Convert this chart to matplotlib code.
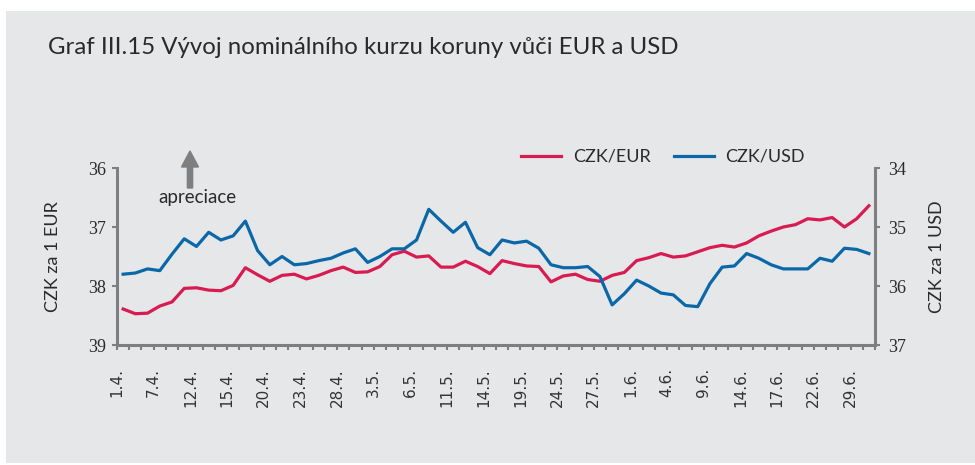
import matplotlib
matplotlib.use("Agg")
import matplotlib.pyplot as plt
from matplotlib.patches import Rectangle, FancyArrow
import numpy as np

# ---- data ----
tick_labels = ["1.4.", "7.4.", "12.4.", "15.4.", "20.4.", "23.4.", "28.4.", "3.5.", "6.5.",
               "11.5.", "14.5.", "19.5.", "24.5.", "27.5.", "1.6.", "4.6.", "9.6.", "14.6.",
               "17.6.", "22.6.", "29.6."]
label_step = 3

czk_eur = [38.39, 38.47, 38.46, 38.34, 38.27, 38.04, 38.03, 38.07, 38.08, 37.99,
           37.69, 37.81, 37.92, 37.82, 37.80, 37.88, 37.82, 37.74, 37.68, 37.77,
           37.76, 37.67, 37.47, 37.41, 37.51, 37.49, 37.68, 37.68, 37.58, 37.67,
           37.79, 37.57, 37.62, 37.66, 37.67, 37.93, 37.83, 37.80, 37.89, 37.92,
           37.82, 37.77, 37.57, 37.52, 37.45, 37.51, 37.49, 37.42, 37.35, 37.31,
           37.34, 37.27, 37.15, 37.07, 37.00, 36.96, 36.86, 36.88, 36.84, 37.00,
           36.86, 36.64]

czk_usd = [35.80, 35.78, 35.71, 35.74, 35.46, 35.20, 35.33, 35.09, 35.22, 35.15,
           34.90, 35.40, 35.64, 35.50, 35.64, 35.62, 35.57, 35.53, 35.44, 35.37,
           35.60, 35.50, 35.37, 35.37, 35.22, 34.70, 34.90, 35.09, 34.92, 35.35,
           35.47, 35.22, 35.27, 35.24, 35.36, 35.64, 35.69, 35.69, 35.67, 35.84,
           36.32, 36.13, 35.90, 36.00, 36.12, 36.15, 36.33, 36.35, 35.96, 35.68,
           35.66, 35.45, 35.53, 35.64, 35.71, 35.71, 35.71, 35.53, 35.58, 35.36,
           35.38, 35.45]

left_ticks = [36, 37, 38, 39]
right_ticks = [34, 35, 36, 37]

# ---- style ----
BG = "#e6e7e9"
RED = "#d81b50"
BLUE = "#0b68a8"
GRAY = "#7f7f7f"
TXT = "#2a2a2a"
SANS = ["Lato", "DejaVu Sans"]
SERIF = ["Liberation Serif", "DejaVu Serif"]
DATEF = ["DejaVu Sans"]

W, H = 975, 465
fig = plt.figure(figsize=(W / 100, H / 100), dpi=100)
fig.patch.set_facecolor("white")
fig.patches.append(Rectangle((6 / W, 2 / H), 1 - 6 / W, (463 - 11) / H,
                             transform=fig.transFigure, facecolor=BG, edgecolor="none", zorder=-10))

x0, x1, y0, y1 = 117, 875, 168, 345
ax = fig.add_axes([x0 / W, (H - y1) / H, (x1 - x0) / W, (y1 - y0) / H])
ax.set_facecolor("none")
ax2 = ax.twinx()

n = len(czk_eur)
x = np.arange(n)
ax.plot(x, czk_eur, color=RED, lw=2.3, solid_joinstyle="round", label="CZK/EUR")
ax2.plot(x, czk_usd, color=BLUE, lw=2.3, solid_joinstyle="round", label="CZK/USD")

ax.set_xlim(-0.5, n - 0.5)
ax.set_ylim(39, 36)
ax2.set_ylim(37, 34)
ax.set_yticks(left_ticks)
ax2.set_yticks(right_ticks)
ax.set_yticklabels([str(v) for v in left_ticks], family=SERIF, fontsize=13, color=TXT)
ax2.set_yticklabels([str(v) for v in right_ticks], family=SERIF, fontsize=13, color=TXT)

ax.set_xticks(np.arange(-0.5, n, 1.0), minor=True)
ax.set_xticks(np.arange(0, len(tick_labels) * label_step, label_step) - 0.5)
ax.set_xticklabels(tick_labels, rotation=90, family=DATEF, fontsize=11, color="#333333")
ax.tick_params(axis="x", which="both", length=3.6, width=1.5, color=GRAY, pad=13)
ax.tick_params(axis="y", length=3.6, width=1.5, color=GRAY, pad=4)
ax2.tick_params(axis="y", length=3.6, width=1.5, color=GRAY, pad=6)

for a in (ax, ax2):
    for s in a.spines.values():
        s.set_visible(False)
ax.spines["left"].set_visible(True)
ax.spines["bottom"].set_visible(True)
ax2.spines["right"].set_visible(True)
for s in (ax.spines["left"], ax.spines["bottom"], ax2.spines["right"]):
    s.set_color(GRAY)
    s.set_linewidth(2.2)

ax.set_ylabel("CZK za 1 EUR", family=SANS, fontsize=13, color=TXT, labelpad=20)
ax2.set_ylabel("CZK za 1 USD", family=SANS, fontsize=13, color=TXT, labelpad=16)

# title
fig.text(48 / W, 1 - 47 / H, "Graf III.15 Vývoj nominálního kurzu koruny vůči EUR a USD",
         family=SANS, fontsize=17.3, color=TXT, va="center", ha="left")

# legend
h1, l1 = ax.get_legend_handles_labels()
h2, l2 = ax2.get_legend_handles_labels()
leg = fig.legend(h1 + h2, l1 + l2, loc="center left", bbox_to_anchor=(505 / W, 1 - 157 / H),
                 ncol=2, frameon=False, prop={"family": SANS, "size": 13},
                 handlelength=2.2, columnspacing=1.3, handletextpad=0.65)
for t in leg.get_texts():
    t.set_color(TXT)

# appreciation arrow
fig.patches.append(FancyArrow(190 / W, 1 - 188 / H, 0, (188 - 151) / H,
                              width=2.5 / H, head_width=17 / W, head_length=16 / H,
                              length_includes_head=True, transform=fig.transFigure,
                              color=GRAY, zorder=5))
fig.text(197 / W, 1 - 197 / H, "apreciace", family=SANS, fontsize=13.5, color=TXT,
         ha="center", va="center")

fig.savefig("out.png", dpi=100, facecolor="white")
